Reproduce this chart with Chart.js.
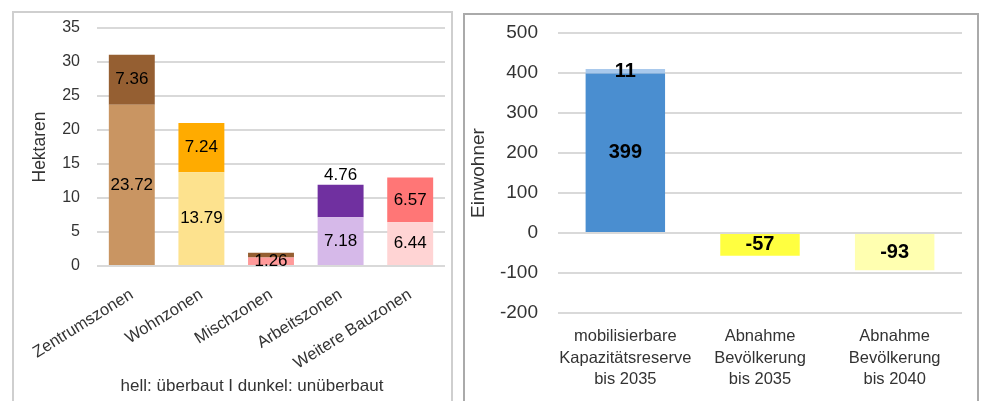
<!DOCTYPE html>
<html>
<head>
    <meta charset="utf-8">
    <title>Bauzonen und Einwohner</title>
    <script src="https://cdn.jsdelivr.net/npm/chart.js"></script>
    <style>
        body { margin: 0; background: #fff; overflow: hidden; font-family: 'Liberation Sans', Arial, sans-serif; }
        .panel { position: absolute; background: #fff; box-sizing: border-box; }
        #leftPanel { left: 12px; top: 11px; width: 441px; height: 400px; border: 2px solid #cfcfcf; }
        #rightPanel { left: 463px; top: 13px; width: 516px; height: 400px; border: 2px solid #aaaaaa; }
        #note { position: absolute; left: 52px; top: 376px; width: 400px; text-align: center; font-size: 17px; color: #333; line-height: 20px; }
    </style>
</head>
<body>
    <div class="panel" id="leftPanel"><canvas id="zonenChart" width="437" height="396"></canvas></div>
    <div id="note">hell: überbaut I dunkel: unüberbaut</div>
    <div class="panel" id="rightPanel"><canvas id="einwohnerChart" width="512" height="396"></canvas></div>

    <script>
        // Bauzonen (Hektaren)
        const zonen = ['Zentrumszonen', 'Wohnzonen', 'Mischzonen', 'Arbeitszonen', 'Weitere Bauzonen'];
        const ueberbaut = [23.72, 13.79, 1.26, 7.18, 6.44];
        const unueberbaut = [7.36, 7.24, 0.7, 4.76, 6.57];
        const hektarTicks = [0, 5, 10, 15, 20, 25, 30, 35];

        // Einwohner
        const kategorien = [
            ['mobilisierbare', 'Kapazitätsreserve', 'bis 2035'],
            ['Abnahme', 'Bevölkerung', 'bis 2035'],
            ['Abnahme', 'Bevölkerung', 'bis 2040']
        ];
        const einwohner = [399, -57, -93];
        const reserveZusatz = [11, null, null];
        const einwohnerTicks = [-200, -100, 0, 100, 200, 300, 400, 500];

        Chart.defaults.font.family = "'Liberation Sans', Arial, sans-serif";
        Chart.defaults.color = '#333';
        Chart.defaults.animation = false;

        // draws the value of each bar segment
        const valueLabels = {
            id: 'valueLabels',
            afterDatasetsDraw(chart, args, opts) {
                const ctx = chart.ctx;
                ctx.save();
                ctx.font = opts.font;
                ctx.fillStyle = '#000';
                ctx.textAlign = 'center';
                ctx.textBaseline = 'middle';
                chart.data.datasets.forEach((ds, di) => {
                    chart.getDatasetMeta(di).data.forEach((bar, i) => {
                        const v = ds.data[i];
                        if (v === null || (opts.skip && opts.skip(di, i))) return;
                        const p = bar.getProps(['x', 'y', 'base'], true);
                        let y = (p.y + p.base) / 2;
                        if (opts.above && opts.above(di, i)) y = p.y - 9;
                        ctx.fillText(opts.format ? opts.format(v) : v, p.x, y);
                    });
                });
                ctx.restore();
            }
        };

        const gridStyle = { color: '#d9d9d9', lineWidth: 2, drawTicks: false };

        // fixed axis width, no extra room for the tick labels at top/bottom
        const fixWidth = w => s => { s.width = w; s.paddingTop = 0; s.paddingBottom = 0; };

        new Chart(document.getElementById('zonenChart'), {
            type: 'bar',
            data: {
                labels: zonen,
                datasets: [{
                    label: 'hell: überbaut',
                    data: ueberbaut,
                    backgroundColor: ['#c99562', '#fde28e', '#ff9a9a', '#d6b9e9', '#ffd4d4']
                }, {
                    label: 'dunkel: unüberbaut',
                    data: unueberbaut,
                    backgroundColor: ['#955f32', '#ffab00', '#955f32', '#7030a0', '#ff7676']
                }]
            },
            plugins: [valueLabels],
            options: {
                responsive: false,
                layout: { padding: { top: 15, right: 6, left: 0, bottom: 0 } },
                datasets: { bar: { barPercentage: 0.66, categoryPercentage: 1 } },
                plugins: {
                    legend: { display: false },
                    tooltip: { enabled: false },
                    valueLabels: {
                        font: "17px 'Liberation Sans', Arial, sans-serif",
                        format: v => v.toFixed(2),
                        skip: (di, i) => di === 1 && i === 2,
                        above: (di, i) => di === 1 && i === 3
                    }
                },
                scales: {
                    x: {
                        stacked: true,
                        grid: { display: false },
                        border: { display: false },
                        ticks: { font: { size: 16.5 }, minRotation: 32, maxRotation: 32, autoSkip: false, padding: 11, color: '#333' },
                        afterFit: s => { s.height = 143; }
                    },
                    y: {
                        stacked: true,
                        min: 0,
                        max: 35,
                        afterBuildTicks: s => { s.ticks = hektarTicks.map(v => ({ value: v })); },
                        grid: gridStyle,
                        border: { display: false },
                        ticks: { font: { size: 16 }, padding: 17, color: '#333' },
                        title: { display: true, text: 'Hektaren', font: { size: 17.5 }, padding: { top: 16, bottom: 0 }, color: '#333' },
                        afterFit: fixWidth(83)
                    }
                }
            }
        });

        new Chart(document.getElementById('einwohnerChart'), {
            type: 'bar',
            data: {
                labels: kategorien,
                datasets: [{
                    label: 'Einwohner',
                    data: einwohner,
                    backgroundColor: ['#4a8ed0', '#ffff40', '#ffffb0']
                }, {
                    label: 'Zusatz',
                    data: reserveZusatz,
                    backgroundColor: '#a9c9ec'
                }]
            },
            plugins: [valueLabels],
            options: {
                responsive: false,
                layout: { padding: { top: 18, right: 15, left: 0, bottom: 0 } },
                datasets: { bar: { barPercentage: 0.59, categoryPercentage: 1 } },
                plugins: {
                    legend: { display: false },
                    tooltip: { enabled: false },
                    valueLabels: {
                        font: "bold 20px 'Liberation Sans', Arial, sans-serif"
                    }
                },
                scales: {
                    x: {
                        stacked: true,
                        grid: { display: false },
                        border: { display: false },
                        ticks: { font: { size: 16.5, lineHeight: 1.3 }, padding: 5, maxRotation: 0, autoSkip: false, color: '#333' },
                        afterFit: s => { s.height = 98; }
                    },
                    y: {
                        stacked: true,
                        min: -200,
                        max: 500,
                        afterBuildTicks: s => { s.ticks = einwohnerTicks.map(v => ({ value: v })); },
                        grid: gridStyle,
                        border: { display: false },
                        ticks: { font: { size: 19 }, padding: 20, color: '#333' },
                        title: { display: true, text: 'Einwohner', font: { size: 19 }, padding: { top: 2, bottom: 0 }, color: '#333' },
                        afterFit: fixWidth(93)
                    }
                }
            }
        });
    </script>
</body>
</html>
